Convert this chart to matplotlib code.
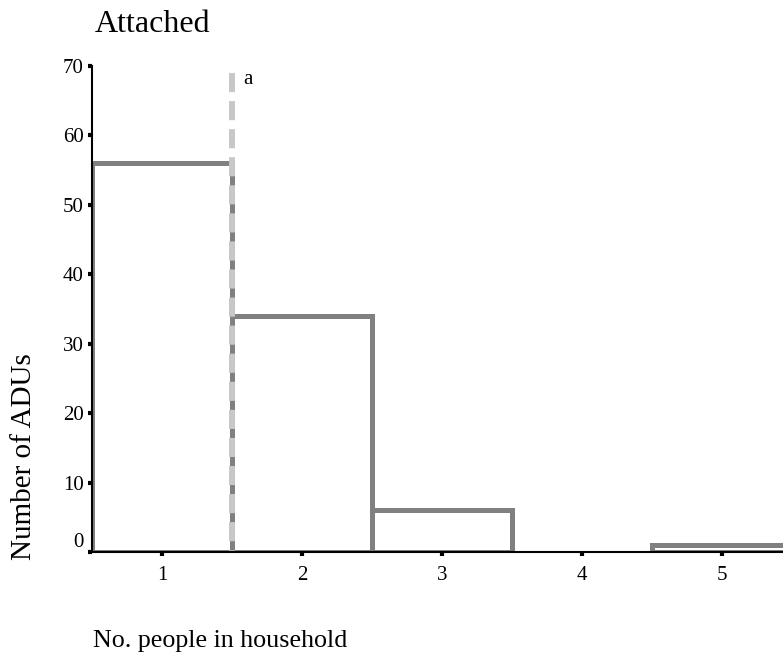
import matplotlib
matplotlib.use('Agg')
import matplotlib.pyplot as plt

plt.rcParams['font.family'] = ['Liberation Serif', 'DejaVu Serif']

# household size categories and counts of attached ADUs
people = [1, 2, 3, 4, 5]
counts = [56, 34, 6, 0, 1]
y_ticks = [0, 10, 20, 30, 40, 50, 60, 70]
median_pos = 1.5

fig = plt.figure(figsize=(7.83, 6.56), dpi=100)
ax = fig.add_axes([92 / 783, (656 - 552) / 656, 691 / 783, 486 / 656])

# skip empty categories so no gray line is drawn on the axis
xs = [p for p, c in zip(people, counts) if c > 0]
hs = [c for c in counts if c > 0]
ax.bar(xs, hs, width=1.0, facecolor='white', edgecolor='#808080', linewidth=3.6)

# dashed marker line, drawn top-down so the pattern starts at the top
ax.plot([median_pos, median_pos], [69, 0], color='#c8c8c8', linewidth=4.3,
        dashes=(3.2, 1.5), solid_capstyle='butt')
ax.text(median_pos + 0.08, 68, 'a', fontsize=15, ha='left', va='center')

ax.set_xlim(0.5, 0.5 + 691 / 140)
ax.set_ylim(0, 70)
ax.set_xticks(people)
ax.set_yticks(y_ticks)
ax.tick_params(axis='both', labelsize=15, length=3, width=3, color='black')
ax.tick_params(axis='x', pad=7)
ax.tick_params(axis='y', pad=3)
ax.get_yticklabels()[0].set_va('bottom')

for s in ['top', 'right']:
    ax.spines[s].set_visible(False)
for s in ['left', 'bottom']:
    ax.spines[s].set_linewidth(1.5)

fig.text(95 / 783, (656 - 32) / 656, 'Attached', fontsize=23, ha='left', va='baseline')
fig.text(93 / 783, (656 - 647) / 656, 'No. people in household', fontsize=18.7,
         ha='left', va='baseline')
fig.text(37 / 783, (656 - 560) / 656, 'Number of ADUs', fontsize=21, rotation=90,
         ha='right', va='bottom')

plt.savefig('out.png', dpi=100)
